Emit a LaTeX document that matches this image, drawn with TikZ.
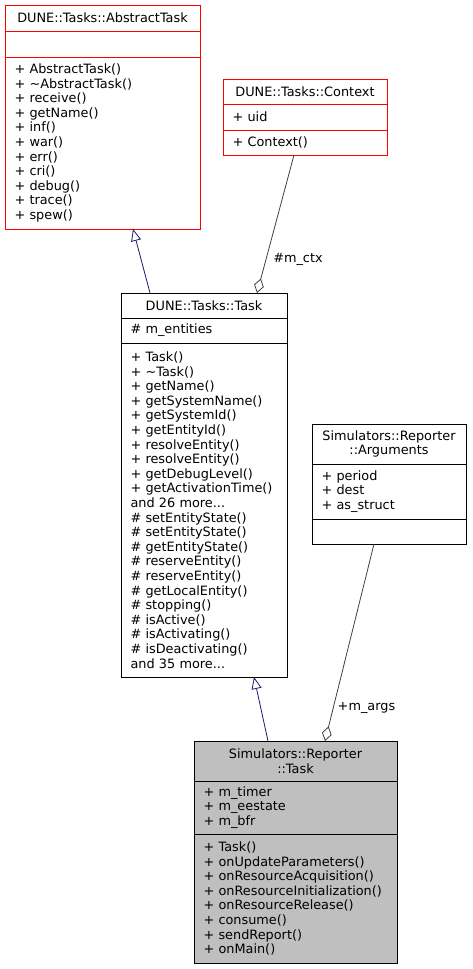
\documentclass[tikz,border=0pt]{standalone}
\usepackage{fontspec}
\newfontfamily\umlfont{DejaVu Sans}
\usetikzlibrary{positioning,arrows.meta,calc}
\definecolor{umlgrey}{HTML}{BFBFBF}
\definecolor{umledge}{HTML}{404040}
\definecolor{umlnavy}{HTML}{191970}
\tikzset{
  uml/.style={draw,line width=0.9pt,inner xsep=9.5pt,inner ysep=0pt,outer sep=0pt,
              font={\fontsize{12.85}{14.6}\umlfont}},
  hd/.style={uml,align=center},
  sect/.style={uml,align=left},
  inh/.style={-{Triangle[open,length=12pt,width=10pt]},draw=umlnavy,line width=0.8pt},
  agg/.style={-{Diamond[open,length=15pt,width=10pt]},draw=umledge,line width=0.8pt},
  lbl/.style={font={\fontsize{12.85}{14.6}\umlfont},inner sep=1pt},
}

\begin{document}
\begin{tikzpicture}[x=1pt,y=-1pt]
\useasboundingbox (0,0) rectangle (472,969);

\node[hd,draw=red,anchor=north west,text width=176pt,minimum height=26pt] (abs) at (5,5) {DUNE::Tasks::AbstractTask};
\node[sect,draw=red,text width=176pt,minimum height=26pt,below=0pt of abs] (absat) {};
\node[sect,draw=red,text width=176pt,minimum height=172pt,below=0pt of absat] (absop)
  {+ AbstractTask()\\+ \textasciitilde AbstractTask()\\+ receive()\\+ getName()\\+ inf()\\+ war()\\+ err()\\+ cri()\\+ debug()\\+ trace()\\+ spew()};

\node[hd,draw=red,anchor=north west,text width=145pt,minimum height=25pt] (ctx) at (223,79) {DUNE::Tasks::Context};
\node[sect,draw=red,text width=145pt,minimum height=26pt,below=0pt of ctx] (ctxat) {+ uid};
\node[sect,draw=red,text width=145pt,minimum height=25pt,below=0pt of ctxat] (ctxop) {+ Context()};

\node[hd,anchor=north west,text width=147pt,minimum height=25pt] (task) at (121,293) {DUNE::Tasks::Task};
\node[sect,text width=147pt,minimum height=25pt,below=0pt of task] (taskat) {\# m\_entities};
\node[sect,text width=147pt,minimum height=334pt,below=0pt of taskat] (taskop)
  {+ Task()\\+ \textasciitilde Task()\\+ getName()\\+ getSystemName()\\+ getSystemId()\\+ getEntityId()\\+ resolveEntity()\\+ resolveEntity()\\+ getDebugLevel()\\+ getActivationTime()\\and 26 more...\\\# setEntityState()\\\# setEntityState()\\\# getEntityState()\\\# reserveEntity()\\\# reserveEntity()\\\# getLocalEntity()\\\# stopping()\\\# isActive()\\\# isActivating()\\\# isDeactivating()\\and 35 more...};

\node[hd,anchor=north west,text width=135pt,minimum height=40pt] (args) at (312,424) {Simulators::Reporter\\::Arguments};
\node[sect,text width=135pt,minimum height=55pt,below=0pt of args] (argsat) {+ period\\+ dest\\+ as\_struct};
\node[sect,text width=135pt,minimum height=25pt,below=0pt of argsat] (argsop) {};

\node[hd,fill=umlgrey,anchor=north west,text width=184pt,minimum height=40pt] (rep) at (194,741) {Simulators::Reporter\\::Task};
\node[sect,fill=umlgrey,text width=184pt,minimum height=53pt,below=0pt of rep] (repat) {+ m\_timer\\+ m\_eestate\\+ m\_bfr};
\node[sect,fill=umlgrey,text width=184pt,minimum height=129pt,below=0pt of repat] (repop)
  {+ Task()\\+ onUpdateParameters()\\+ onResourceAcquisition()\\+ onResourceInitialization()\\+ onResourceRelease()\\+ consume()\\+ sendReport()\\+ onMain()};

\draw[inh] ($(task.north west)+(29,0)$) -- ($(absop.south west)+(128,0)$);
\draw[agg] ($(ctxop.south west)+(71,0)$) -- node[lbl,pos=0.76,anchor=west,xshift=6pt]{\#m\_ctx} ($(task.north west)+(136,0)$);
\draw[inh] ($(rep.north west)+(74,0)$) -- ($(taskop.south west)+(133,0)$);
\draw[agg] ($(argsop.south west)+(62,0)$) -- node[lbl,pos=0.83,anchor=west,xshift=3pt]{+m\_args} ($(rep.north west)+(131,0)$);

\end{tikzpicture}
\end{document}
